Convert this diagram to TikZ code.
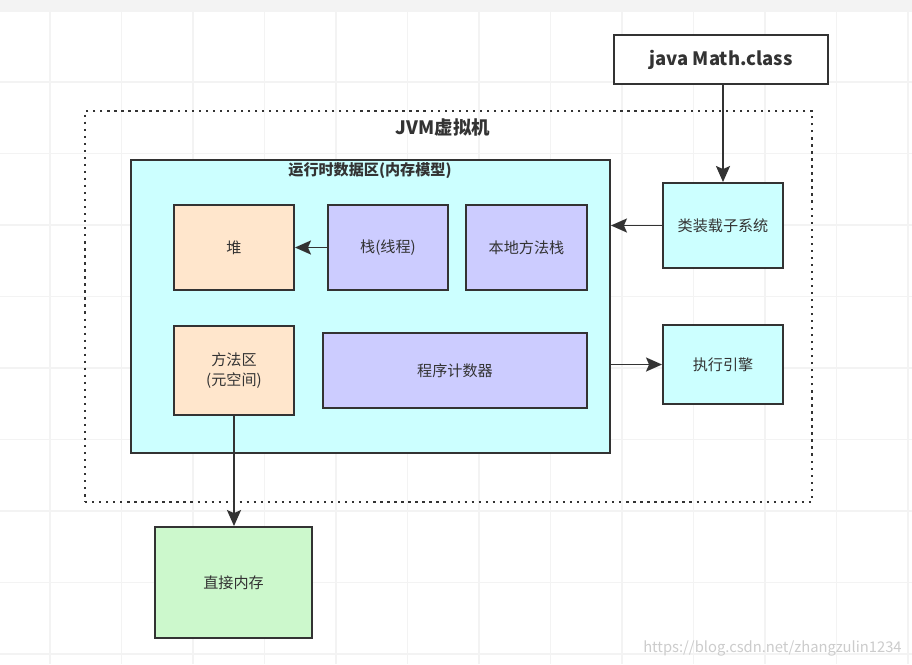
\documentclass[tikz,border=0pt]{standalone}
\usepackage{fontspec}
\setmainfont{Noto Sans CJK SC}
\setsansfont{Noto Sans CJK SC}
\usetikzlibrary{arrows.meta,positioning,calc}
\usepackage{xcolor}
\definecolor{areaCyan}{HTML}{CCFFFF}
\definecolor{heapPeach}{HTML}{FFE6CC}
\definecolor{stackLilac}{HTML}{CCCCFF}
\definecolor{memGreen}{HTML}{CCF8CC}
\definecolor{lineGray}{HTML}{333333}
\definecolor{gridGray}{HTML}{F3F3F3}
\tikzset{
part/.style={rectangle, draw=lineGray, line width=1.1pt, align=center, font=\sffamily\fontsize{8.6}{11}\selectfont, text=lineGray, inner sep=2pt},
heap/.style={part, fill=heapPeach},
stack/.style={part, fill=stackLilac},
sub/.style={part, fill=areaCyan},
title/.style={font=\sffamily\bfseries, text=lineGray, inner sep=0pt},
arrow/.style={-{Stealth[length=3.2mm, width=2.8mm, inset=0.6mm]}, line width=1.1pt, draw=lineGray}
}

\begin{document}
\begin{tikzpicture}[x=0.02cm, y=-0.02cm]
\useasboundingbox (0,0) rectangle (912,664);
% background grid
\fill[white] (0,0) rectangle (912,664);
\foreach \x in {50,121.5,...,912}{
\draw[gridGray, line width=0.8pt] (\x,12) -- (\x,664);
}
\foreach \y in {82,153.5,...,664}{
\draw[gridGray, line width=0.8pt] (0,\y) -- (912,\y);
}
\fill[gridGray] (0,0) rectangle (912,12);

% jvm frame
\node[draw=lineGray, line width=1.3pt, dash pattern=on 1.3pt off 2.7pt, minimum width=14.54cm, minimum height=7.82cm] (jvm) at (448.5,306.5) {};
\node[title, font=\sffamily\bfseries\fontsize{10.5}{12}\selectfont] (jvmlabel) at (443,127) {JVM虚拟机};

% runtime data area
\node[sub, minimum width=9.58cm, minimum height=5.86cm] (rda) at (370.5,306.5) {};
\node[title, font=\sffamily\bfseries\fontsize{8.6}{10}\selectfont] (rdalabel) at (370,171) {运行时数据区(内存模型)};

\node[heap, minimum width=2.4cm, minimum height=1.7cm] (heap) at (234,247.5) {堆};
\node[stack, minimum width=2.4cm, minimum height=1.7cm] (stk) at (388,247.5) {栈(线程)};
\node[stack, minimum width=2.42cm, minimum height=1.7cm] (nstk) at (526.5,247.5) {本地方法栈};
\node[heap, minimum width=2.4cm, minimum height=1.78cm] (mth) at (234,370.5) {方法区\\(元空间)};
\node[stack, minimum width=5.28cm, minimum height=1.5cm] (pc) at (455,370.5) {程序计数器};

% outside the data area
\node[part, fill=white, minimum width=4.28cm, minimum height=0.98cm, font=\sffamily\bfseries\fontsize{10.5}{12}\selectfont] (java) at (721,59.5) {java Math.class};
\node[sub, minimum width=2.4cm, minimum height=1.7cm] (cls) at (723,225.5) {类装载子系统};
\node[sub, minimum width=2.4cm, minimum height=1.58cm] (exe) at (723,364.5) {执行引擎};
\node[part, fill=memGreen, minimum width=3.14cm, minimum height=2.22cm] (dmem) at (233.5,582.5) {直接内存};

\draw[arrow] (java.south -| cls.north) -- (cls.north);
\draw[arrow] (cls.west) -- (cls.west -| rda.east);
\draw[arrow] (stk.west) -- (heap.east);
\draw[arrow] (rda.east |- exe.west) -- (exe.west);
\draw[arrow] (mth.south) -- (mth.south |- dmem.north);

\node[font=\fontsize{8.4}{10}\selectfont, text=black!20, anchor=east, inner sep=0pt] (mark) at (902,648) {https://blog.csdn.net/zhangzulin1234};
\end{tikzpicture}
\end{document}
